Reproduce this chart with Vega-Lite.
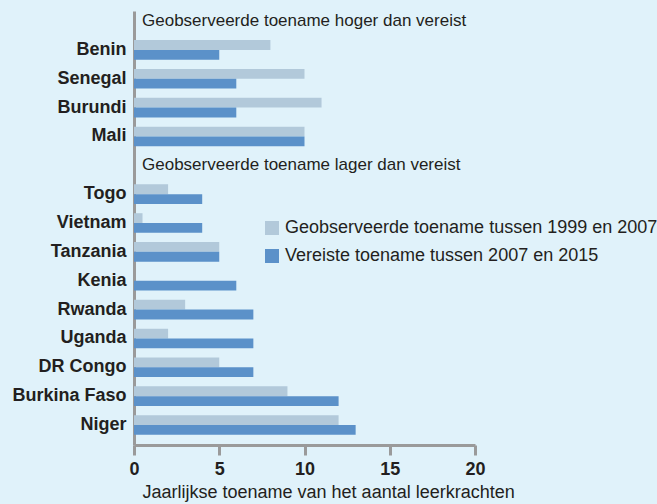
{
  "$schema": "https://vega.github.io/schema/vega-lite/v6.json",
  "autosize": "none",
  "width": 341,
  "height": 434,
  "padding": {"left": 134, "top": 11, "right": 182, "bottom": 59},
  "background": "#e0f2fa",
  "config": {
    "view": {"stroke": null},
    "font": "Liberation Sans"
  },
  "datasets": {
    "bars": [
      {"land": "Benin", "reeks": "Geobserveerde toename tussen 1999 en 2007", "waarde": 8},
      {"land": "Benin", "reeks": "Vereiste toename tussen 2007 en 2015", "waarde": 5},
      {"land": "Senegal", "reeks": "Geobserveerde toename tussen 1999 en 2007", "waarde": 10},
      {"land": "Senegal", "reeks": "Vereiste toename tussen 2007 en 2015", "waarde": 6},
      {"land": "Burundi", "reeks": "Geobserveerde toename tussen 1999 en 2007", "waarde": 11},
      {"land": "Burundi", "reeks": "Vereiste toename tussen 2007 en 2015", "waarde": 6},
      {"land": "Mali", "reeks": "Geobserveerde toename tussen 1999 en 2007", "waarde": 10},
      {"land": "Mali", "reeks": "Vereiste toename tussen 2007 en 2015", "waarde": 10},
      {"land": "Togo", "reeks": "Geobserveerde toename tussen 1999 en 2007", "waarde": 2},
      {"land": "Togo", "reeks": "Vereiste toename tussen 2007 en 2015", "waarde": 4},
      {"land": "Vietnam", "reeks": "Geobserveerde toename tussen 1999 en 2007", "waarde": 0.5},
      {"land": "Vietnam", "reeks": "Vereiste toename tussen 2007 en 2015", "waarde": 4},
      {"land": "Tanzania", "reeks": "Geobserveerde toename tussen 1999 en 2007", "waarde": 5},
      {"land": "Tanzania", "reeks": "Vereiste toename tussen 2007 en 2015", "waarde": 5},
      {"land": "Kenia", "reeks": "Geobserveerde toename tussen 1999 en 2007", "waarde": 0},
      {"land": "Kenia", "reeks": "Vereiste toename tussen 2007 en 2015", "waarde": 6},
      {"land": "Rwanda", "reeks": "Geobserveerde toename tussen 1999 en 2007", "waarde": 3},
      {"land": "Rwanda", "reeks": "Vereiste toename tussen 2007 en 2015", "waarde": 7},
      {"land": "Uganda", "reeks": "Geobserveerde toename tussen 1999 en 2007", "waarde": 2},
      {"land": "Uganda", "reeks": "Vereiste toename tussen 2007 en 2015", "waarde": 7},
      {"land": "DR Congo", "reeks": "Geobserveerde toename tussen 1999 en 2007", "waarde": 5},
      {"land": "DR Congo", "reeks": "Vereiste toename tussen 2007 en 2015", "waarde": 7},
      {"land": "Burkina Faso", "reeks": "Geobserveerde toename tussen 1999 en 2007", "waarde": 9},
      {"land": "Burkina Faso", "reeks": "Vereiste toename tussen 2007 en 2015", "waarde": 12},
      {"land": "Niger", "reeks": "Geobserveerde toename tussen 1999 en 2007", "waarde": 12},
      {"land": "Niger", "reeks": "Vereiste toename tussen 2007 en 2015", "waarde": 13}
    ],
    "koppen": [
      {"land": "h1", "tekst": "Geobserveerde toename hoger dan vereist"},
      {"land": "h2", "tekst": "Geobserveerde toename lager dan vereist"}
    ]
  },
  "encoding": {
    "y": {
      "field": "land",
      "type": "nominal",
      "scale": {
        "domain": ["h1", "Benin", "Senegal", "Burundi", "Mali", "h2", "Togo", "Vietnam", "Tanzania", "Kenia", "Rwanda", "Uganda", "DR Congo", "Burkina Faso", "Niger"],
        "paddingInner": 0.32,
        "paddingOuter": 0.18,
        "align": 0.02
      },
      "axis": {
        "title": null,
        "ticks": false,
        "domainColor": "#9a9a9a",
        "domainWidth": 3,
        "labelFont": "Liberation Sans",
        "labelFontWeight": "bold",
        "labelFontSize": 18,
        "labelColor": "#231f20",
        "labelPadding": 8,
        "labelExpr": "datum.value == 'h1' || datum.value == 'h2' ? '' : datum.value"
      }
    }
  },
  "layer": [
    {
      "data": {"name": "bars"},
      "mark": {"type": "bar"},
      "encoding": {
        "x": {
          "field": "waarde",
          "type": "quantitative",
          "scale": {"domain": [0, 20], "nice": false},
          "axis": {
            "values": [0, 5, 10, 15, 20],
            "grid": false,
            "domainColor": "#9a9a9a",
            "domainWidth": 3,
            "tickColor": "#9a9a9a",
            "tickWidth": 3,
            "tickSize": 10,
            "labelFlush": false,
            "labelFont": "Liberation Sans",
            "labelFontWeight": "bold",
            "labelFontSize": 18,
            "labelColor": "#231f20",
            "labelPadding": 5,
            "title": "Jaarlijkse toename van het aantal leerkrachten",
            "titleFont": "Liberation Sans",
            "titleFontWeight": "normal",
            "titleFontSize": 18,
            "titleColor": "#231f20",
            "titleAnchor": "start",
            "titleAlign": "left",
            "titleX": 8,
            "titlePadding": 5
          }
        },
        "yOffset": {
          "field": "reeks",
          "type": "nominal",
          "scale": {"domain": ["Geobserveerde toename tussen 1999 en 2007", "Vereiste toename tussen 2007 en 2015"]}
        },
        "color": {
          "field": "reeks",
          "type": "nominal",
          "scale": {
            "domain": ["Geobserveerde toename tussen 1999 en 2007", "Vereiste toename tussen 2007 en 2015"],
            "range": ["#b2c9da", "#5b91c9"]
          },
          "legend": {
            "title": null,
            "orient": "none",
            "legendX": 129,
            "legendY": 208,
            "symbolType": "square",
            "symbolSize": 196,
            "symbolStrokeWidth": 0,
            "labelFont": "Liberation Sans",
            "labelFontSize": 18,
            "labelColor": "#231f20",
            "labelOffset": 4,
            "rowPadding": 10,
            "labelLimit": 400
          }
        }
      }
    },
    {
      "data": {"name": "koppen"},
      "mark": {"type": "text", "align": "left", "baseline": "middle", "dx": 8, "fontSize": 17, "font": "Liberation Sans", "color": "#231f20"},
      "encoding": {
        "x": {"datum": 0, "type": "quantitative"},
        "text": {"field": "tekst", "type": "nominal"}
      }
    }
  ]
}
